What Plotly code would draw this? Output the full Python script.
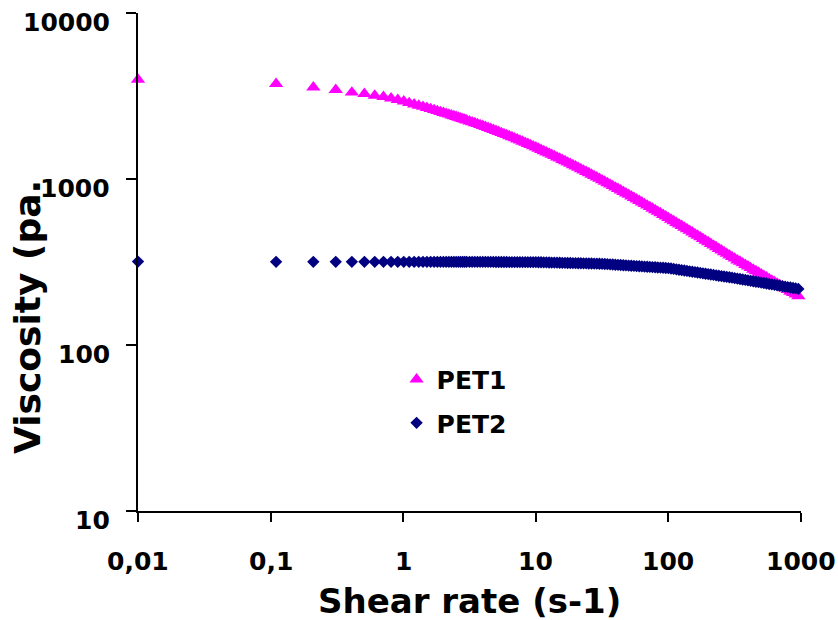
import math
import plotly.graph_objects as go

# Shear rate (s-1)
shear_rate = [
    0.01, 0.11, 0.21, 0.31, 0.41, 0.51, 0.61, 0.71, 0.81, 0.91,
    1.01, 1.11, 1.21, 1.31, 1.41, 1.51, 1.61, 1.71, 1.81, 1.91,
    2.01, 2.11, 2.21, 2.31, 2.41, 2.51, 2.61, 2.71, 2.81, 2.91, 3.01,
    3.162, 3.311, 3.467, 3.631, 3.802, 3.981, 4.169, 4.365, 4.571, 4.786,
    5.012, 5.248, 5.495, 5.754, 6.026, 6.310, 6.607, 6.918, 7.244, 7.586,
    7.943, 8.318, 8.710, 9.120, 9.550,
    10.0, 10.47, 10.96, 11.48, 12.02, 12.59, 13.18, 13.80, 14.45, 15.14,
    15.85, 16.60, 17.38, 18.20, 19.05, 19.95, 20.89, 21.88, 22.91, 23.99,
    25.12, 26.30, 27.54, 28.84, 30.20,
    31.62, 33.11, 34.67, 36.31, 38.02, 39.81, 41.69, 43.65, 45.71, 47.86,
    50.12, 52.48, 54.95, 57.54, 60.26, 63.10, 66.07, 69.18, 72.44, 75.86,
    79.43, 83.18, 87.10, 91.20, 95.50,
    100.0, 104.7, 109.6, 114.8, 120.2, 125.9, 131.8, 138.0, 144.5, 151.4,
    158.5, 166.0, 173.8, 182.0, 190.5, 199.5, 208.9, 218.8, 229.1, 239.9,
    251.2, 263.0, 275.4, 288.4, 302.0,
    316.2, 331.1, 346.7, 363.1, 380.2, 398.1, 416.9, 436.5, 457.1, 478.6,
    501.2, 524.8, 549.5, 575.4, 602.6, 631.0, 660.7, 691.8, 724.4, 758.6,
    794.3, 831.8, 871.0, 912.0, 955.0,
]

# Viscosity PET1
pet1 = [
    3975, 3745, 3565, 3445, 3325, 3260, 3180, 3125, 3060, 3000,
    2940, 2873, 2819, 2770, 2725, 2683, 2642, 2605, 2570, 2537,
    2505, 2475, 2447, 2420, 2394, 2369, 2345, 2322, 2300, 2279, 2259,
    2228, 2201, 2173, 2146, 2117, 2090, 2062, 2034, 2007, 1979,
    1952, 1924, 1896, 1869, 1842, 1815, 1788, 1761, 1734, 1708,
    1681, 1655, 1629, 1603, 1577,
    1551, 1526, 1500, 1474, 1449, 1425, 1401, 1376, 1352, 1329,
    1305, 1282, 1259, 1236, 1214, 1192, 1170, 1148, 1127, 1105,
    1085, 1064, 1044, 1023, 1004,
    984, 965, 946, 927, 908, 890, 872, 855, 837, 820,
    804, 787, 771, 755, 739, 724, 708, 693, 679, 664,
    650, 636, 623, 609, 596,
    583, 570, 558, 545, 533, 522, 510, 499, 488, 477,
    466, 456, 446, 436, 426, 417, 407, 398, 389, 380,
    372, 363, 355, 347, 339,
    332, 324, 318, 311, 304, 298, 291, 285, 279, 273,
    267, 261, 256, 250, 245, 240, 235, 230, 225, 220,
    215, 210, 206, 202, 197,
]

# Viscosity PET2
pet2 = [
    318, 317, 317, 317, 317, 317, 317, 317, 317, 317,
    317, 317, 317, 317, 317, 317, 317, 317, 317, 317,
    317, 317, 317, 317, 317, 317, 317, 317, 317, 317, 317,
    317, 317, 317, 317, 317, 317, 316.8, 316.7, 316.6, 316.5,
    316.4, 316.3, 316.2, 316.1, 316.0, 315.9, 315.8, 315.8, 315.7, 315.7,
    315.6, 315.6, 315.6, 315.5, 315.5,
    315.5, 315.2, 314.9, 314.6, 314.3, 314.1, 313.8, 313.5, 313.2, 312.9,
    312.6, 312.3, 312.0, 311.8, 311.5, 311.2, 310.9, 310.6, 310.3, 310.1,
    309.8, 309.5, 309.2, 308.9, 308.7,
    308.3, 307.6, 306.8, 306.1, 305.4, 304.6, 303.9, 303.2, 302.4, 301.7,
    301.0, 300.3, 299.6, 298.8, 298.1, 297.4, 296.7, 296.0, 295.3, 294.6,
    293.9, 293.2, 292.5, 291.8, 291.1,
    290.4, 288.8, 287.2, 285.6, 284.0, 282.5, 280.9, 279.4, 277.8, 276.3,
    274.8, 273.3, 271.8, 270.3, 268.8, 267.3, 265.8, 264.4, 262.9, 261.5,
    260.0, 258.6, 257.2, 255.8, 254.4,
    252.9, 251.3, 249.8, 248.2, 246.7, 245.2, 243.6, 242.1, 240.6, 239.1,
    237.6, 236.2, 234.7, 233.2, 231.8, 230.4, 228.9, 227.5, 226.1, 224.7,
    223.3, 221.9, 220.5, 219.2, 217.8,
]

x_tickvals = [0.01, 0.1, 1, 10, 100, 1000]
x_ticktext = ["0,01", "0,1", "1", "10", "100", "1000"]
y_tickvals = [10, 100, 1000, 10000]
y_ticktext = ["10", "100", "1000", "10000"]

FONT = "DejaVu Sans"

fig = go.Figure()
fig.add_trace(go.Scatter(
    x=shear_rate, y=pet1, mode="markers", name="PET1",
    marker=dict(symbol="triangle-up", size=12.5, color="#FF00FF", line=dict(width=0)),
    cliponaxis=False, legendgroup="a",
))
fig.add_trace(go.Scatter(
    x=shear_rate, y=pet2, mode="markers", name="PET2",
    marker=dict(symbol="diamond", size=9.5, color="#000080", line=dict(width=0)),
    cliponaxis=False, legendgroup="b",
))

annotations = []
for v, t in zip(y_tickvals, y_ticktext):
    annotations.append(dict(
        x=0, xref="paper", y=math.log10(v), yref="y", text=t, showarrow=False,
        xanchor="right", yanchor="middle", xshift=-26, yshift=-9,
        font=dict(family=FONT, size=25, color="black", weight="bold"),
    ))
for v, t in zip(x_tickvals, x_ticktext):
    annotations.append(dict(
        x=math.log10(v), xref="x", y=0, yref="paper", text=t, showarrow=False,
        xanchor="center", yanchor="middle", yshift=-50,
        font=dict(family=FONT, size=25, color="black", weight="bold"),
    ))
annotations.append(dict(
    x=0.5, xref="paper", y=0, yref="paper", text="Shear rate (s-1)", showarrow=False,
    xanchor="center", yanchor="middle", yshift=-90,
    font=dict(family=FONT, size=34, color="black", weight="bold"),
))
annotations.append(dict(
    x=0, xref="paper", y=(511 - 317) / 498, yref="paper", text="Viscosity (pa.",
    showarrow=False, textangle=-90, xanchor="center", yanchor="middle", xshift=-111,
    font=dict(family=FONT, size=36, color="black", weight="bold"),
))

fig.update_layout(
    width=838, height=620, autosize=False,
    margin=dict(l=138, r=37, t=13, b=109),
    paper_bgcolor="white", plot_bgcolor="white",
    showlegend=True,
    legend=dict(
        x=0.39, y=0.31, xanchor="left", yanchor="top",
        font=dict(family=FONT, size=25, color="black", weight="bold"),
        bgcolor="rgba(0,0,0,0)", tracegroupgap=8,
    ),
    annotations=annotations,
)
fig.update_xaxes(
    type="log", range=[-2, 3], showgrid=False, zeroline=False,
    showline=True, linecolor="black", linewidth=1.5,
    ticks="outside", ticklen=9, tickwidth=1.5, tickcolor="black",
    tickvals=x_tickvals, showticklabels=False,
)
fig.update_yaxes(
    type="log", range=[1, 4], showgrid=False, zeroline=False,
    showline=True, linecolor="black", linewidth=1.5,
    ticks="outside", ticklen=10, tickwidth=1.5, tickcolor="black",
    tickvals=y_tickvals, showticklabels=False,
)

fig.write_html(
    "out.html",
    config={"displayModeBar": False},
    post_script="document.body.style.margin='0';document.body.style.overflow='hidden';",
)
